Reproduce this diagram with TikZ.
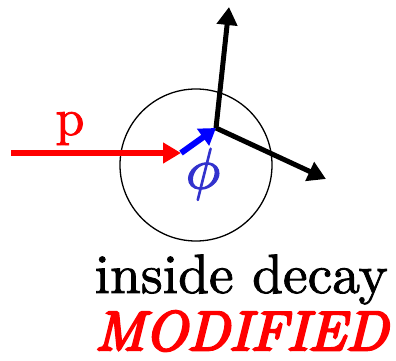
\RequirePackage{fix-cm}
\documentclass[tikz,border=0pt]{standalone}
\usepackage{fontspec}
\usetikzlibrary{arrows.meta}
\definecolor{phiblue}{RGB}{50,50,205}
\newcommand{\bigtxt}[2][5.55]{\scalebox{#1}{\fontsize{10}{12}\selectfont #2}}
\newcommand{\heavytxt}[2]{\special{pdf:literal direct 2 Tr #1 w}#2\special{pdf:literal direct 0 Tr 0 w}}
\begin{document}
\begin{tikzpicture}[x=1pt,y=1pt,
  lbl/.style={inner sep=0pt},
  heavy/.style={line width=5pt},
]
\useasboundingbox (0,0) rectangle (396,360);
\coordinate (A) at (11,207);
\coordinate (B) at (181,207);
\coordinate (C) at (216,232);
\coordinate (U) at (229,353);
\coordinate (R) at (326,181);
\node[draw, circle, line width=1.3pt, minimum size=152pt, inner sep=0pt] (O) at (196,195) {};
\draw[red, line width=6pt, -{Triangle[length=18pt,width=20pt]}] (A) -- (B);
\draw[blue, line width=6pt, -{Triangle[length=16pt,width=20pt]}] (B) -- (C);
\draw[black, heavy, -{Triangle[length=18pt,width=20pt]}] (C) -- (U);
\draw[black, heavy, -{Triangle[length=18pt,width=20pt]}] (C) -- (R);
\node[lbl, red, anchor=base] (p) at (70,225) {\bigtxt[5.2]{\heavytxt{0.15}{p}}};
\node[lbl, text=phiblue, anchor=center] (phi) at (203,186) {\bigtxt[5.8]{\heavytxt{0.2}{$\phi$}}};
\node[lbl, anchor=base east] (t1) at (388,67) {\bigtxt{\heavytxt{0.15}{inside decay}}};
\node[lbl, red, anchor=base east] (t2) at (388,10) {\bigtxt{\itshape\heavytxt{0.45}{MODIFIED}}};
\end{tikzpicture}
\end{document}
